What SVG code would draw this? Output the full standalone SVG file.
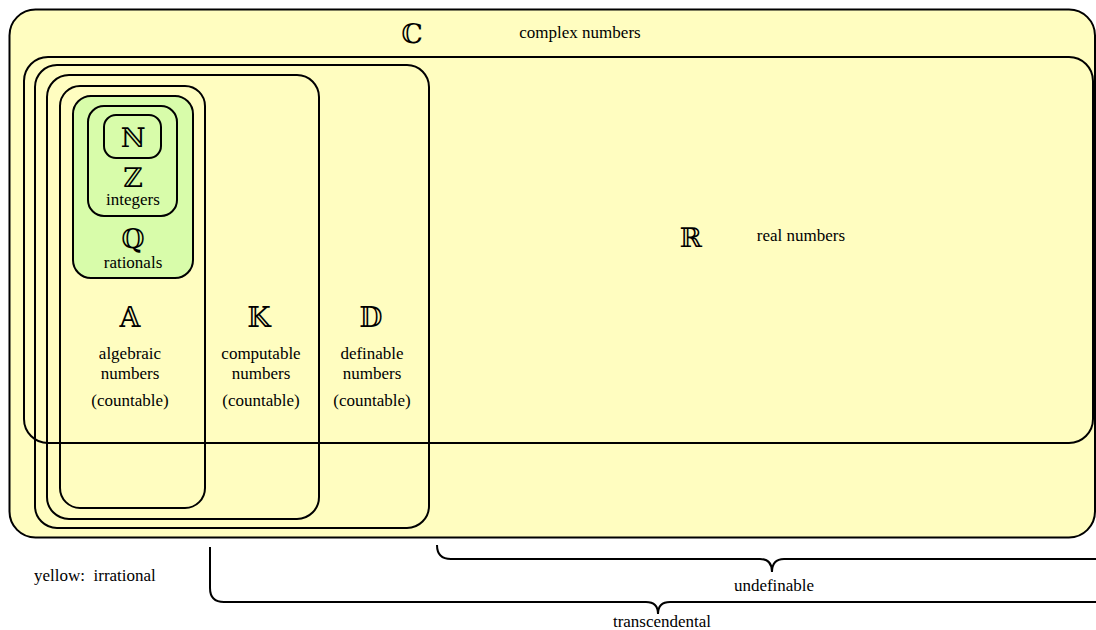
<svg xmlns="http://www.w3.org/2000/svg" width="1096" height="630" viewBox="0 0 1096 630">
<style>
  .set { fill: none; stroke: #000; stroke-width: 2; }
  .yel { fill: #FFFDC0; stroke: #000; stroke-width: 2; }
  .grn { fill: #D8FCAA; stroke: #000; stroke-width: 2; }
  .bb { font-family: "DejaVu Serif", "DejaVu Sans", serif; font-size: 27px; text-anchor: middle; fill: #000; }
  .lbl { font-family: "Liberation Serif", "DejaVu Serif", serif; font-size: 17px; text-anchor: middle; fill: #000; }
  .brace { fill: none; stroke: #000; stroke-width: 2; }
</style>
<rect width="1096" height="630" fill="#ffffff"/>
<g id="node-C">
  <rect class="yel" x="9.5" y="9.5" width="1085.5" height="528" rx="26" ry="26"/>
  <text class="bb" x="412" y="43">ℂ</text>
  <text class="lbl" x="580" y="38">complex numbers</text>
</g>
<g id="node-R">
  <rect class="set" x="24" y="57" width="1069" height="386" rx="24" ry="24"/>
  <text class="bb" x="691" y="247">ℝ</text>
  <text class="lbl" x="801" y="241">real numbers</text>
</g>
<g id="node-D">
  <rect class="set" x="35" y="65" width="394" height="463" rx="22" ry="22"/>
  <text class="bb" x="371" y="327">𝔻</text>
  <text class="lbl" x="372" y="359">definable</text>
  <text class="lbl" x="372" y="379">numbers</text>
  <text class="lbl" x="372" y="406">(countable)</text>
</g>
<g id="node-K">
  <rect class="set" x="47" y="75" width="272" height="444" rx="22" ry="22"/>
  <text class="bb" x="259" y="327">𝕂</text>
  <text class="lbl" x="261" y="359">computable</text>
  <text class="lbl" x="261" y="379">numbers</text>
  <text class="lbl" x="261" y="406">(countable)</text>
</g>
<g id="node-A">
  <rect class="set" x="60" y="86" width="145" height="422" rx="20" ry="20"/>
  <text class="bb" x="130" y="327">𝔸</text>
  <text class="lbl" x="130" y="359">algebraic</text>
  <text class="lbl" x="130" y="379">numbers</text>
  <text class="lbl" x="130" y="406">(countable)</text>
</g>
<g id="node-Q">
  <rect class="grn" x="73" y="96" width="120" height="182" rx="18" ry="18"/>
  <text class="bb" x="133" y="248">ℚ</text>
  <text class="lbl" x="133" y="268">rationals</text>
</g>
<g id="node-Z">
  <rect class="grn" x="88" y="106" width="89" height="110" rx="16" ry="16"/>
  <text class="bb" x="133" y="187">ℤ</text>
  <text class="lbl" x="133" y="205">integers</text>
</g>
<g id="node-N">
  <rect class="grn" x="104" y="115" width="57" height="43" rx="12" ry="12"/>
  <text class="bb" x="133" y="147">ℕ</text>
</g>
<g id="connectors">
  <path class="brace" d="M437 545 Q437 559 451 559 L760 559 C767 559 772 562 772 572 C772 562 777 559 784 559 L1100 559 Q1110 559 1110 545"/>
  <path class="brace" d="M210 547 L210 588 Q210 602 224 602 L646 602 C653 602 658 605 658 614 C658 605 663 602 670 602 L1100 602 Q1110 602 1110 590"/>
  <text class="lbl" x="774" y="591">undefinable</text>
  <text class="lbl" x="662" y="627">transcendental</text>
</g>
<text class="lbl" x="34" y="581" style="text-anchor:start; white-space:pre">yellow:  irrational</text>
</svg>
